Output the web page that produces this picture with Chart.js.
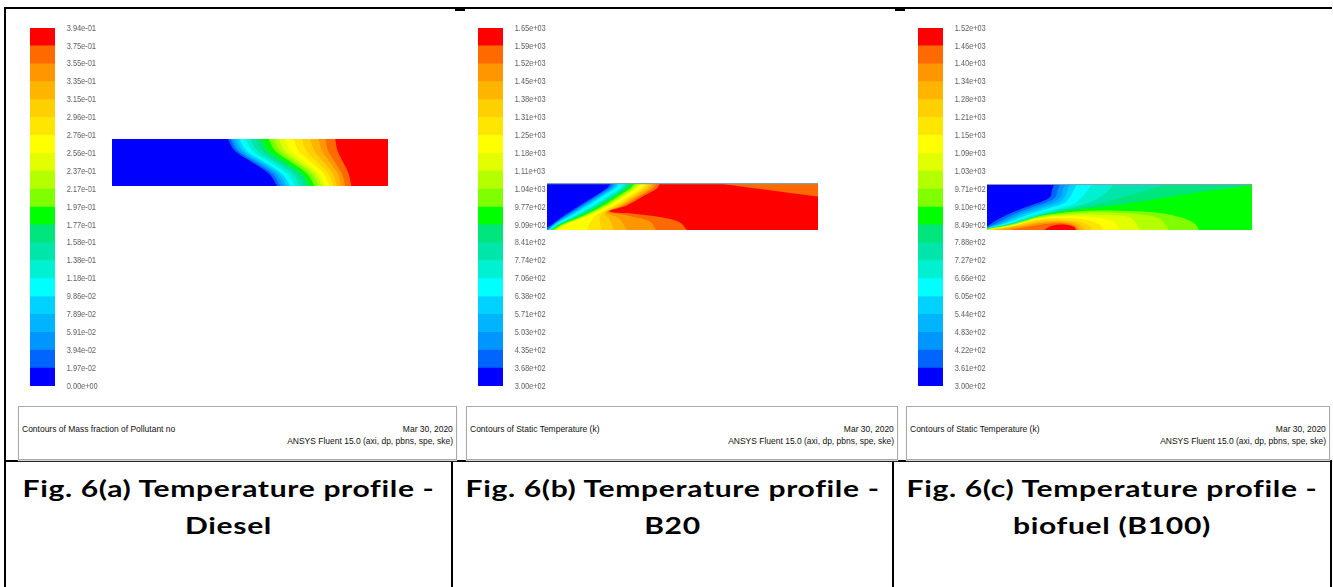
<!DOCTYPE html>
<html><head><meta charset="utf-8">
<script src="https://cdn.jsdelivr.net/npm/chart.js@4.4.1/dist/chart.umd.min.js"></script>
<style>
html,body{margin:0;padding:0;background:#fff}
#page{position:relative;width:1333px;height:587px;overflow:hidden;background:#fff}
.ln{position:absolute;background:#000}
canvas{position:absolute;display:block}
canvas.cb{transform-origin:0 0}
.foot{position:absolute;top:406px;height:52px;border:1px solid #a9a9a9;box-shadow:0 1px 1px #d6d6d6;background:#fff;
 font-family:"Liberation Sans Narrow","Arial Narrow","Liberation Sans",Arial,sans-serif;font-size:8.8px;line-height:10px;color:#111}
.foot span{position:absolute;white-space:nowrap}
.foot .l{left:3px;top:17px;transform-origin:left center}
.foot .d{right:3px;top:17px;transform-origin:right center}
.foot .v{right:3px;top:29px;transform-origin:right center}
.cap{position:absolute;top:470px;font-family:Lato,"Open Sans",sans-serif;font-weight:700;font-size:23px;letter-spacing:0.5px;line-height:37px;text-align:center;color:#000;transform-origin:50% 50%}
</style></head><body><div id="page">
<div class="ln" style="left:4px;top:7px;width:1328px;height:2px"></div>
<div class="ln" style="left:455px;top:8px;width:10px;height:3px"></div>
<div class="ln" style="left:895px;top:8px;width:10px;height:3px"></div>
<div class="ln" style="left:4px;top:7px;width:2px;height:580px"></div>
<div class="ln" style="left:4px;top:460px;width:1328px;height:2px"></div>
<div class="ln" style="left:451px;top:460px;width:2px;height:127px"></div>
<div class="ln" style="left:892px;top:460px;width:2px;height:127px"></div>
<div class="ln" style="left:1330px;top:460px;width:2px;height:127px"></div>

<canvas class="cb" id="cbA" style="left:30px;top:18px"></canvas>
<canvas class="cb" id="cbB" style="left:478px;top:18px"></canvas>
<canvas class="cb" id="cbC" style="left:918px;top:18px"></canvas>
<canvas id="ctA" width="276" height="47" style="left:112px;top:139px"></canvas>
<canvas id="ctB" width="271" height="47" style="left:547px;top:183px"></canvas>
<canvas id="ctC" width="265" height="46" style="left:987px;top:184px"></canvas>

<div class="foot" style="left:18px;width:437px"><span class="l">Contours of Mass fraction of Pollutant no</span><span class="d">Mar 30, 2020</span><span class="v">ANSYS Fluent 15.0 (axi, dp, pbns, spe, ske)</span></div>
<div class="foot" style="left:466px;width:430px"><span class="l">Contours of Static Temperature (k)</span><span class="d">Mar 30, 2020</span><span class="v">ANSYS Fluent 15.0 (axi, dp, pbns, spe, ske)</span></div>
<div class="foot" style="left:906px;width:422px"><span class="l">Contours of Static Temperature (k)</span><span class="d">Mar 30, 2020</span><span class="v">ANSYS Fluent 15.0 (axi, dp, pbns, spe, ske)</span></div>

<div class="cap" id="capA" style="left:5px;width:447px"><span>Fig. 6(a) Temperature profile -</span><br><span>Diesel</span></div>
<div class="cap" style="left:452px;width:441px"><span>Fig. 6(b) Temperature profile -</span><br><span>B20</span></div>
<div class="cap" style="left:893px;width:438px"><span>Fig. 6(c) Temperature profile -</span><br><span>biofuel (B100)</span></div>
</div>
<script>
// ---------- palette (20 contour levels, level 0 = lowest) ----------
const LEVEL_COLORS = ['#0000ff','#0064ff','#0096ff','#00b4ff','#00d2ff','#00ffff','#00f0d2','#00e6aa','#00e67d','#00ff00',
  '#80ff00','#b4ff00','#e1ff00','#ffff00','#ffe600','#ffd000','#ffb400','#ff9600','#ff6a00','#ff0000'];

// ---------- colour-bar tick labels (top -> bottom) ----------
const dieselLabels = ['3.94e-01','3.75e-01','3.55e-01','3.35e-01','3.15e-01','2.96e-01','2.76e-01','2.56e-01','2.37e-01','2.17e-01','1.97e-01','1.77e-01','1.58e-01','1.38e-01','1.18e-01','9.86e-02','7.89e-02','5.91e-02','3.94e-02','1.97e-02','0.00e+00'];
const b20Labels = ['1.65e+03','1.59e+03','1.52e+03','1.45e+03','1.38e+03','1.31e+03','1.25e+03','1.18e+03','1.11e+03','1.04e+03','9.77e+02','9.09e+02','8.41e+02','7.74e+02','7.06e+02','6.38e+02','5.71e+02','5.03e+02','4.35e+02','3.68e+02','3.00e+02'];
const b100Labels = ['1.52e+03','1.46e+03','1.40e+03','1.34e+03','1.28e+03','1.21e+03','1.15e+03','1.09e+03','1.03e+03','9.71e+02','9.10e+02','8.49e+02','7.88e+02','7.27e+02','6.66e+02','6.05e+02','5.44e+02','4.83e+02','4.22e+02','3.61e+02','3.00e+02'];

// ---------- (a) Diesel: band edges x/L (%) at radial stations r/R (%) ----------
const dieselRows = [100, 75, 50, 25, 0];
const dieselEdges = [ // edge k separates level k (left) from level k+1 (right)
  [42.0,44.5,50.9,57.1,59.8],[43.0,45.5,52.0,58.3,61.0],[43.9,46.5,53.1,59.5,62.2],[44.9,47.5,54.2,60.6,63.4],
  [46.1,48.7,55.4,61.8,64.6],[48.3,50.8,57.4,63.7,66.4],[50.1,52.6,59.2,65.5,68.2],[51.9,54.4,60.9,67.1,69.8],
  [54.1,56.5,62.8,68.9,71.5],[56.8,59.1,65.1,70.9,73.4],[58.6,60.9,66.8,72.5,74.9],[60.4,62.6,68.3,73.8,76.1],
  [62.8,64.8,70.1,75.1,77.3],[65.8,67.6,72.3,76.8,78.7],[68.8,70.4,74.5,78.5,80.2],[71.9,73.3,76.8,80.1,81.6],
  [74.9,76.0,79.0,81.9,83.1],[77.3,78.3,80.9,83.4,84.5],[80.9,81.7,83.8,85.8,86.7]];

// ---------- (b) B20: field level 19; outer-wall wedge level 18; boundaries of region <= k ----------
const b20Base = 19;
const b20Wedge = [[62,100],[100,71]];
const b20Bands = [
  [[23.8,100],[22.0,88.4],[17.7,72.5],[12.1,52.2],[5.9,29.0],[1.6,10.9],[0,5.8]],
  [[24.7,100],[22.8,88.4],[18.5,72.5],[13.0,52.2],[6.7,29.0],[2.0,10.9],[0.1,0]],
  [[25.4,100],[23.6,88.4],[19.3,72.5],[13.7,52.2],[7.2,29.0],[2.2,10.9],[0.2,0]],
  [[26.2,100],[24.3,88.4],[20.0,72.5],[14.4,52.2],[7.8,29.0],[2.6,10.9],[0.4,0]],
  [[26.9,100],[25.1,88.4],[20.7,72.5],[15.2,52.2],[8.4,29.0],[2.8,10.9],[0.6,0]],
  [[28.8,100],[26.9,88.4],[22.6,72.5],[17.0,52.2],[9.9,29.0],[3.6,10.9],[0.9,0]],
  [[29.6,100],[27.8,88.4],[23.5,72.5],[17.9,52.2],[10.6,29.0],[4.0,10.9],[1.1,0]],
  [[30.4,100],[28.5,88.4],[24.2,72.5],[18.6,52.2],[11.2,29.0],[4.3,10.9],[1.4,0]],
  [[31.2,100],[29.4,88.4],[25.1,72.5],[19.5,52.2],[11.9,29.0],[4.7,10.9],[1.6,0]],
  [[32.5,100],[30.6,88.4],[26.3,72.5],[20.7,52.2],[12.8,29.0],[5.2,10.9],[2.0,0]],
  [[33.3,100],[31.5,88.4],[27.2,72.5],[21.6,52.2],[13.6,29.0],[5.6,10.9],[2.5,0]],
  [[34.1,100],[32.2,88.4],[27.9,72.5],[22.3,52.2],[14.2,29.0],[5.9,10.9],[3.0,0]],
  [[34.8,100],[33.0,88.4],[28.6,72.5],[23.1,52.2],[14.8,29.0],[6.3,10.9],[3.5,0]],
  [[36.5,100],[34.7,88.4],[30.4,72.5],[24.7,52.2],[18.3,32.6],[15.8,14.5],[14.6,0]],
  [[37.5,100],[35.7,88.4],[31.4,72.5],[25.7,52.2],[20.1,34.8],[19.5,18.1],[20.1,0]],
  [[38.5,100],[36.7,88.4],[32.3,72.5],[26.7,52.2],[21.4,36.2],[23.2,21.7],[24.7,0]],
  [[39.5,100],[37.8,88.4],[33.3,72.5],[27.5,52.2],[22.0,37.7],[26.3,25.4],[29.6,0]],
  [[40.5,100],[39.0,88.4],[34.3,72.5],[28.4,52.2],[22.6,39.1],[30.0,30.4],[38.0,18.1],[40.2,0]],
  [[41.7,100],[40.5,88.4],[35.6,72.5],[29.4,52.2],[23.0,39.9],[31.9,34.8],[41.7,27.5],[49.1,15.9],[51.6,0]]];

// ---------- (c) B100: field level 9; cold upper regions (<= k, k=0..8); hot lower lens (>= k, k=10..19) ----------
const b100Base = 9;
const b100Upper = [
  [[25.4,100],[24.5,87],[23.9,72.5],[21.4,63.8],[15.1,50.7],[8.8,36.2],[3.1,19.6],[0,7.2]],
  [[27.7,100],[26.7,87],[25.9,72.5],[23.3,62.3],[17.0,49.3],[10.3,34.8],[4.4,17.4],[0,5.8]],
  [[29.6,100],[28.6,87],[27.7,72.5],[25.2,60.9],[18.6,47.8],[11.6,33.3],[5.3,15.9],[0,5.1]],
  [[31.4,100],[30.4,87],[29.4,72.5],[26.9,59.4],[20.1,46.4],[12.8,31.9],[6.0,15.2],[0,4.3]],
  [[34.0,100],[32.7,87],[31.4,72.5],[28.9,58.0],[22.0,44.9],[14.1,30.4],[6.9,14.5],[0,3.6]],
  [[39.6,100],[38.0,87],[35.8,72.5],[32.7,56.5],[24.5,43.5],[15.7,29.0],[7.8,13.0],[0,3.6]],
  [[47.8,100],[45.9,87],[42.8,72.5],[37.7,58.0],[27.7,43.5],[17.6,29.0],[8.6,12.3],[0,2.9]],
  [[67.9,100],[60.4,87],[52.8,73.9],[44.0,59.4],[31.4,46.4],[20.1,32.6],[9.4,13.0],[0,2.9]],
  [[100,100],[100,98.6],[88.1,88.4],[75.5,78.3],[62.9,66.7],[50.3,55.1],[36.5,46.4],[22.6,34.8],[10.7,15.9],[0,2.9]]];
const b100Lens = [
  [[0,2.2],[10.1,14.0],[20.1,31.0],[35.2,41.0],[50.3,42.0],[62.9,38.4],[73.0,27.5],[78.6,13.0],[79.9,0]],
  [[0.25,1.4],[10.1,12.5],[20.1,28.5],[35.2,37.5],[47.8,37.5],[59.1,33.0],[65.4,23.2],[68.6,0]],
  [[0.5,1.4],[10.1,11.5],[20.1,26.5],[32.7,33.0],[45.3,32.5],[54.1,26.5],[57.9,0]],
  [[0.75,0.7],[10.1,10.5],[18.9,24.5],[30.2,29.5],[40.3,27.5],[47.8,17.5],[50.3,0]],
  [[1.0,0.7],[10.1,9.5],[18.9,22.5],[28.9,26.0],[37.7,22.0],[42.8,10.9],[44.0,0]],
  [[1.3,0],[10.1,8.5],[18.9,20.5],[27.7,23.0],[35.2,18.0],[39.0,7.2],[39.6,0]],
  [[2.5,0],[11.3,8.0],[20.1,18.0],[27.7,19.8],[34.0,14.8],[37.1,0]],
  [[5.0,0],[12.6,7.5],[21.4,16.0],[28.3,17.0],[33.3,11.6],[35.2,0]],
  [[8.8,0],[16.4,8.0],[23.9,14.0],[29.6,14.2],[33.3,7.2],[34.2,0]],
  [[21.4,0],[24.5,9.5],[28.9,12.0],[32.7,7.2],[33.7,0]]];

// ---------- helpers ----------
const LABEL_FONT = {family:'"Liberation Sans Narrow","Arial Narrow","Liberation Sans",Arial,sans-serif', size:9.5};
const CB_SQUEEZE = 0.78;   // narrow (condensed) annotation look of the Fluent legend
const CB_BAR = 25, CB_AXIS = 64, CB_H = 378;

function colorbar(id, labels) {
  const n = labels.length - 1;
  const el = document.getElementById(id);
  const w = Math.round(CB_BAR / CB_SQUEEZE) + CB_AXIS;
  el.width = w; el.height = CB_H;
  el.style.width = w + 'px'; el.style.height = CB_H + 'px';
  el.style.transform = 'scaleX(' + CB_SQUEEZE + ')';
  new Chart(el, {
    type: 'bar',
    data: { labels: [''], datasets: LEVEL_COLORS.map(c => ({ data: [1], backgroundColor: c, borderWidth: 0, barPercentage: 1, categoryPercentage: 1 })) },
    options: {
      responsive: false, animation: false, events: [],
      layout: { padding: { top: 10, bottom: 10, left: 0, right: 0 } },
      plugins: { legend: { display: false }, tooltip: { enabled: false } },
      scales: {
        x: { display: false, stacked: true },
        y: { stacked: true, position: 'right', min: 0, max: n,
             grid: { display: false, drawTicks: false }, border: { display: false },
             afterBuildTicks: s => { s.ticks = labels.map((_, i) => ({ value: i })); },
             afterFit: s => { s.width = CB_AXIS; s.paddingTop = 0; s.paddingBottom = 0; },
             ticks: { autoSkip: false, padding: Math.round(12 / CB_SQUEEZE), color: '#5e5e5e', font: LABEL_FONT, callback: v => labels[n - v] } }
      }
    }
  });
}

function region(points, level, axis, to) {
  return { data: points.map(p => ({ x: p[0], y: p[1] })), indexAxis: axis, fill: { value: to },
           backgroundColor: LEVEL_COLORS[level], borderWidth: 0, pointRadius: 0, tension: 0.35 };
}
function wall(color) {
  return { data: [{x:0,y:99.2},{x:100,y:99.2}], indexAxis: 'x', fill: false, borderColor: color, borderWidth: 1.5, pointRadius: 0 };
}
function contour(id, paintOrder) {
  new Chart(document.getElementById(id), {
    type: 'line',
    data: { datasets: paintOrder.slice().reverse() },
    options: {
      responsive: false, animation: false, events: [],
      layout: { padding: 0 },
      plugins: { legend: { display: false }, tooltip: { enabled: false } },
      scales: { x: { type: 'linear', min: 0, max: 100, display: false }, y: { type: 'linear', min: 0, max: 100, display: false } }
    }
  });
}

colorbar('cbA', dieselLabels);
colorbar('cbB', b20Labels);
colorbar('cbC', b100Labels);

// (a)
const paintA = [region([[0,100],[0,0]], 0, 'y', 100)];
dieselEdges.forEach((e, k) => paintA.push(region(dieselRows.map((r, i) => [e[i], r]), k + 1, 'y', 100)));
contour('ctA', paintA);

// (b)
const paintB = [region([[0,100],[0,0]], b20Base, 'y', 100), region(b20Wedge, 18, 'y', 100)];
for (let k = b20Bands.length - 1; k >= 0; k--) paintB.push(region(b20Bands[k], k, 'y', 0));
paintB.push(wall('#7fa898'));
contour('ctB', paintB);

// (c)
const paintC = [region([[0,100],[0,0]], b100Base, 'y', 100)];
b100Lens.forEach((pts, i) => paintC.push(region(pts, 10 + i, 'x', 0)));
for (let k = b100Upper.length - 1; k >= 0; k--) paintC.push(region(b100Upper[k], k, 'y', 0));
paintC.push(wall('#8c96c8'));
contour('ctC', paintC);

// fit footer text widths to the narrow Fluent annotation font
const ref = document.querySelector('.foot .v');
const f = Math.min(1, 166 / ref.getBoundingClientRect().width);
document.querySelectorAll('.foot span').forEach(s => { s.style.transform = 'scaleX(' + f + ')'; });

// widen the caption lettering to the Calibri-like width of the document captions
const capW = document.querySelector('#capA span').getBoundingClientRect().width;
const g = 412 / capW;
document.querySelectorAll('.cap').forEach(c => { c.style.transform = 'scaleX(' + g + ')'; });
</script>
</body></html>
